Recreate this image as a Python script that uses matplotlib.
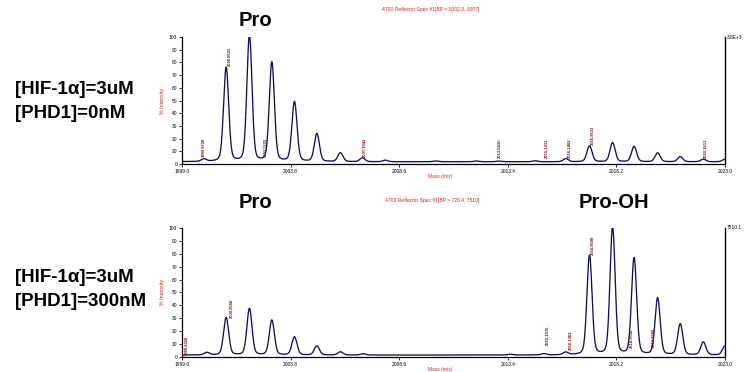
import numpy as np
import matplotlib
matplotlib.use("Agg")
import matplotlib.pyplot as plt

plt.rcParams['font.family'] = ['Liberation Sans', 'DejaVu Sans']

# ---------------- data ----------------
x_min, x_max = 1999.0, 2023.0
x_ticks = [1999.0, 2003.8, 2008.6, 2013.4, 2018.2, 2023.0]
x_tick_labels = ["1999.0", "2003.8", "2008.6", "2013.4", "2018.2", "2023.0"]
y_ticks = [0, 10, 20, 30, 40, 50, 60, 70, 80, 90, 100]

# top spectrum: [HIF-1a]=3uM, [PHD1]=0nM
top_peak_mz = [1999.97, 2000.95, 2001.98, 2002.97, 2003.97, 2004.96, 2006.00, 2006.97, 2007.99,
               2010.2, 2012.0, 2013.0, 2014.6, 2015.96, 2017.01, 2018.03, 2018.98, 2020.02,
               2021.02, 2022.04, 2023.0]
top_peak_int = [2, 74, 99, 78, 47, 22, 7, 3, 1.2,
                0.6, 0.6, 0.5, 0.8, 2.5, 12.5, 15, 12, 7, 4, 2, 2]

# bottom spectrum: [HIF-1a]=3uM, [PHD1]=300nM
bot_peak_mz = [2000.1, 2000.95, 2001.98, 2002.97, 2003.97, 2004.96, 2006.00, 2007.0,
               2013.5, 2015.0, 2015.96, 2017.01, 2018.03, 2018.98, 2020.02, 2021.02, 2022.04, 2023.0]
bot_peak_int = [2, 29, 36, 27, 14, 7, 2.5, 1,
                0.6, 1, 2, 77, 99, 75, 44, 24, 10, 7]

baseline_top = 1.8
baseline_bot = 1.5

top_labels_mz = [1999.97, 2001.13, 2002.72, 2007.10, 2013.04, 2015.12, 2016.14, 2017.16, 2022.16]
top_labels_y = [5.5, 77, 5.5, 5.5, 4.5, 5, 5, 15, 4.5]
top_labels_txt = ["1999.9720", "2000.9531", "2002.7233", "2007.1042", "2013.0415",
                  "2015.1231", "2016.1402", "2016.9531", "2022.1613"]

bot_labels_mz = [1999.2, 2001.2, 2015.15, 2016.18, 2017.18, 2018.88, 2019.85]
bot_labels_y = [1.5, 30, 9, 5.5, 79, 7, 8]
bot_labels_txt = ["1999.8328", "2000.9588", "2015.1575", "2016.1363", "2016.9598",
                  "2018.9530", "2019.8580"]

top_header = "4700 Reflector Spec #1[BP = 1002.3, 1007]"
bot_header = "4700 Reflector Spec #1[BP = 728.4, 7510]"
top_right_label = "3.8E+3"
bot_right_label = "7510.1"

# ---------------- drawing ----------------
def spectrum(mz, inten, base):
    x = np.linspace(x_min, x_max, 6000)
    y = np.full_like(x, base)
    s = 0.11
    g = 0.17
    for m, h in zip(mz, inten):
        d = x - m
        y += h * (0.85 * np.exp(-0.5 * (d / s) ** 2) + 0.15 / (1 + (d / g) ** 2))
    return x, y

fig = plt.figure(figsize=(7.49, 3.72), dpi=100)
line_color = "#10105a"
red = "#cc2222"
dark_red = "#7a1010"

def make_panel(rect, mz, inten, base, labels_mz, labels_y, labels_txt, header, right_label, header_x):
    ax = fig.add_axes(rect)
    x, y = spectrum(mz, inten, base)
    ax.plot(x, y, color=line_color, lw=0.95)
    ax.set_xlim(x_min, x_max)
    ax.set_ylim(0, 100)
    ax.set_xticks(x_ticks)
    ax.set_xticklabels(x_tick_labels, fontsize=3.5)
    ax.set_yticks(y_ticks)
    ax.set_yticklabels([str(v) for v in y_ticks], fontsize=3.5)
    ax.tick_params(length=2, width=0.6, pad=1.5)
    ax.spines["top"].set_visible(False)
    ax.spines["right"].set_linewidth(1.0)
    ax.spines["left"].set_linewidth(0.9)
    ax.spines["bottom"].set_linewidth(0.9)
    ax.text(1.003, 1.0, right_label, transform=ax.transAxes, fontsize=3.5, va="center", ha="left")
    ax.set_ylabel("% Intensity", fontsize=3.8, color=red, labelpad=3)
    ax.text(0.475, -0.075, "Mass (m/z)", transform=ax.transAxes, fontsize=3.5, color=red,
            ha="center", va="top")
    for m, yy, t in zip(labels_mz, labels_y, labels_txt):
        ax.text(m, yy, t, rotation=90, fontsize=3.0, color=dark_red, ha="center", va="bottom",
                fontweight="bold")
    fig.text(header_x, rect[1] + rect[3] + 0.075, header, fontsize=3.6, color=red, ha="left", va="center")
    return ax

ax1 = make_panel([0.243, 0.559, 0.725, 0.3415], top_peak_mz, top_peak_int, baseline_top,
                 top_labels_mz, top_labels_y, top_labels_txt, top_header, top_right_label, 382 / 749)
ax2 = make_panel([0.243, 0.0403, 0.725, 0.347], bot_peak_mz, bot_peak_int, baseline_bot,
                 bot_labels_mz, bot_labels_y, bot_labels_txt, bot_header, bot_right_label, 385 / 749)

# big annotations
fig.text(255 / 749, 1 - 20 / 372, "Pro", fontsize=14.5, fontweight="bold", ha="center", va="center")
fig.text(255 / 749, 1 - 203 / 372, "Pro", fontsize=14.5, fontweight="bold", ha="center", va="center")
fig.text(614 / 749, 1 - 203 / 372, "Pro-OH", fontsize=14.5, fontweight="bold", ha="center", va="center")

fig.text(15 / 749, 1 - 89 / 372, "[HIF-1\u03b1]=3uM", fontsize=13.5, fontweight="bold", ha="left", va="center")
fig.text(15 / 749, 1 - 113 / 372, "[PHD1]=0nM", fontsize=13.5, fontweight="bold", ha="left", va="center")
fig.text(15 / 749, 1 - 277 / 372, "[HIF-1\u03b1]=3uM", fontsize=13.5, fontweight="bold", ha="left", va="center")
fig.text(15 / 749, 1 - 301 / 372, "[PHD1]=300nM", fontsize=13.5, fontweight="bold", ha="left", va="center")

fig.savefig("out.png", dpi=100)
